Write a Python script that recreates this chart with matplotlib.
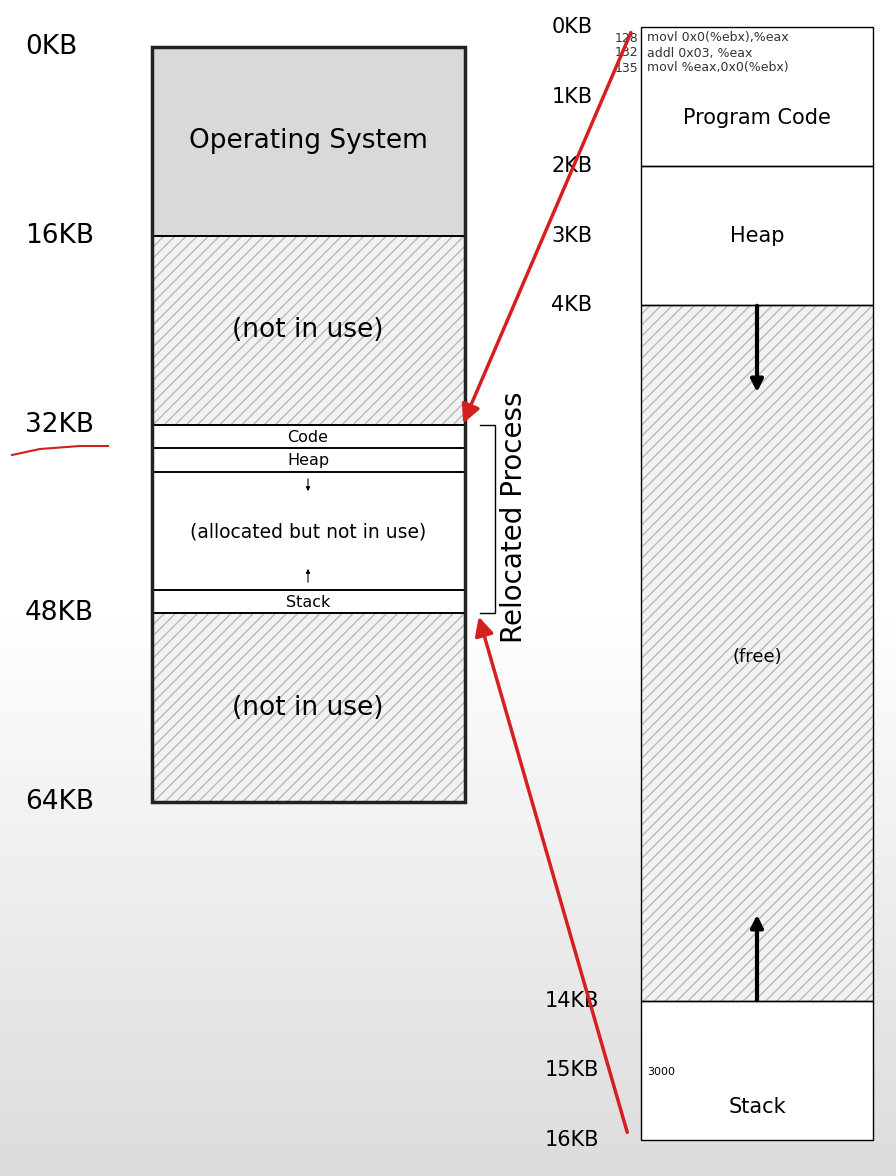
import numpy as np
import matplotlib.pyplot as plt
from matplotlib.patches import Rectangle, FancyArrowPatch

# physical memory (left), KB
phys_ticks = [0, 16, 32, 48, 64]
phys_regions = [(0, 16, 'Operating System', 'os'), (16, 32, '(not in use)', 'hatch'),
                (32, 34, 'Code', 'white'), (34, 36, 'Heap', 'white'),
                (36, 46, '(allocated but not in use)', 'white'), (46, 48, 'Stack', 'white'),
                (48, 64, '(not in use)', 'hatch')]
# process address space (right), KB
virt_ticks = [0, 1, 2, 3, 4, 14, 15, 16]
virt_regions = [(0, 2, 'Program Code', 'white'), (2, 4, 'Heap', 'white'),
                (4, 14, '(free)', 'hatch'), (14, 16, 'Stack', 'white')]
code_addr = ['128', '132', '135']
code_text = ['movl 0x0(%ebx),%eax', 'addl 0x03, %eax', 'movl %eax,0x0(%ebx)']

fig = plt.figure(figsize=(8.96, 11.76), dpi=100)
ax = fig.add_axes([0, 0, 1, 1])
ax.set_xlim(0, 896)
ax.set_ylim(1176, 0)
ax.axis('off')

# background fade
grad = np.clip((np.linspace(0, 1176, 300) - 600) / 576, 0, 1)[:, None]
ax.imshow(1 - 0.14 * grad, cmap='gray', vmin=0, vmax=1, extent=[0, 896, 1176, 0], aspect='auto', zorder=0)

def py(kb): return 47 + kb * (802 - 47) / 64
def vy(kb): return 27 + kb * (1140 - 27) / 16

def draw_block(x0, x1, y0, y1, kind, lw):
    if kind == 'hatch':
        ax.add_patch(Rectangle((x0, y0), x1 - x0, y1 - y0, facecolor='#f2f2f2', edgecolor='#b8b8b8',
                               hatch='///', lw=0, zorder=1))
    else:
        fc = '#d9d9d9' if kind == 'os' else 'white'
        ax.add_patch(Rectangle((x0, y0), x1 - x0, y1 - y0, facecolor=fc, lw=0, zorder=1))
    ax.add_patch(Rectangle((x0, y0), x1 - x0, y1 - y0, fill=False, edgecolor='black', lw=lw, zorder=2))

for a, b, lab, kind in phys_regions:
    draw_block(152, 465, py(a), py(b), kind, 1.2)
    small = b - a <= 10
    fs = 13.5 if b - a == 10 else (11.5 if small else 19)
    ax.text(308, (py(a) + py(b)) / 2 + (1 if small else 0), lab, ha='center', va='center',
            fontsize=fs, zorder=3)
ax.add_patch(Rectangle((152, py(0)), 313, py(64) - py(0), fill=False, edgecolor='#222222', lw=2.5, zorder=4))
for t in phys_ticks:
    ax.text(25, py(t), f'{t}KB', ha='left', va='center', fontsize=19)
# small arrows in allocated area
ax.annotate('', xy=(308, 494), xytext=(308, 476), arrowprops=dict(arrowstyle='-|>', lw=0.8, color='black', mutation_scale=6))
ax.annotate('', xy=(308, 566), xytext=(308, 585), arrowprops=dict(arrowstyle='-|>', lw=0.8, color='black', mutation_scale=6))
# bracket
ax.plot([480, 495, 495, 480], [py(32), py(32), py(48), py(48)], color='black', lw=1)
ax.text(514, (py(32) + py(48)) / 2 - 2, 'Relocated Process', rotation=90, ha='center', va='center', fontsize=20)
# red underline scribble
ax.plot([12, 40, 80, 108], [455, 449, 446, 446], color='#d02020', lw=1.5)

for a, b, lab, kind in virt_regions:
    draw_block(641, 873, vy(a), vy(b), kind, 1.0)
ax.text(757, 118, 'Program Code', ha='center', va='center', fontsize=15)
ax.text(757, 236, 'Heap', ha='center', va='center', fontsize=15)
ax.text(757, 657, '(free)', ha='center', va='center', fontsize=13)
ax.text(757, 1107, 'Stack', ha='center', va='center', fontsize=15)
ax.text(647, 1072, '3000', ha='left', va='center', fontsize=8)
for i, (ad, tx) in enumerate(zip(code_addr, code_text)):
    y = 38 + i * 15
    ax.text(638, y, ad, ha='right', va='center', fontsize=9, color='#333333')
    ax.text(647, y, tx, ha='left', va='center', fontsize=9, color='#333333')
for t in virt_ticks:
    ax.text(572, vy(t), f'{t}KB', ha='center', va='center', fontsize=15)
ax.annotate('', xy=(757, 395), xytext=(757, 303), arrowprops=dict(arrowstyle='-|>', lw=3, color='black', mutation_scale=18))
ax.annotate('', xy=(757, 912), xytext=(757, 1003), arrowprops=dict(arrowstyle='-|>', lw=3, color='black', mutation_scale=18))

# red arrows
for start, end in [((632, 30), (462, 426)), ((628, 1135), (478, 614))]:
    ax.add_patch(FancyArrowPatch(start, end, arrowstyle='-|>', mutation_scale=28, lw=2.5,
                                 color='#d42020', zorder=5))

fig.savefig('out.png', dpi=100)
